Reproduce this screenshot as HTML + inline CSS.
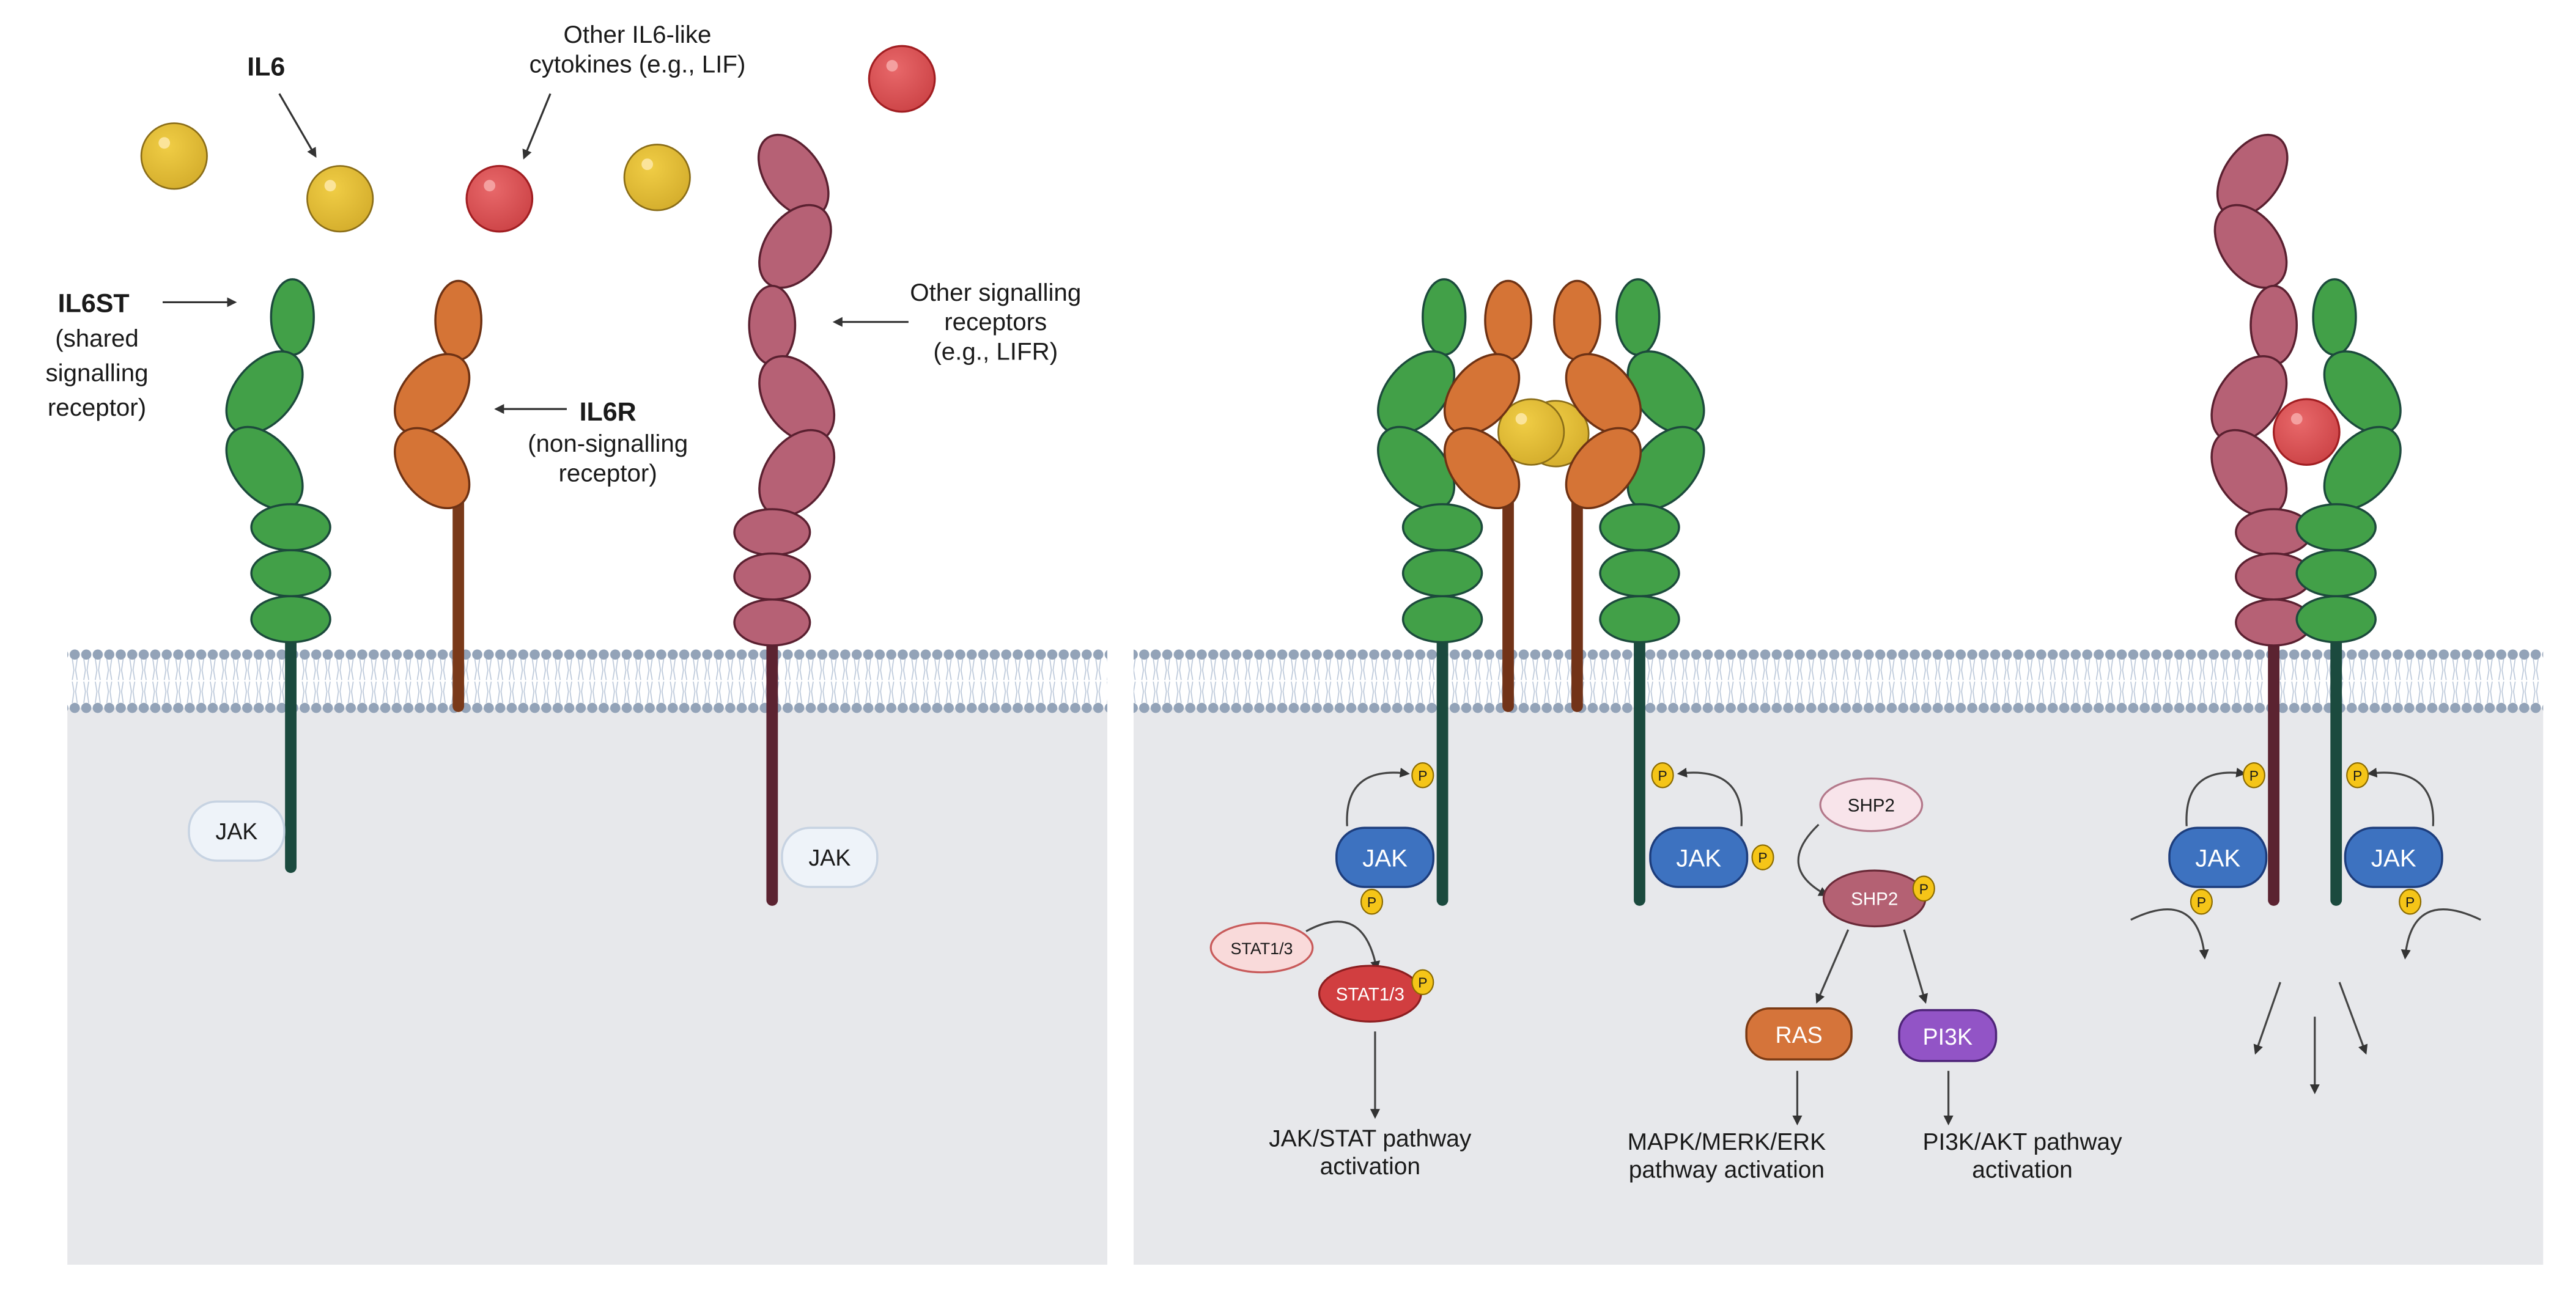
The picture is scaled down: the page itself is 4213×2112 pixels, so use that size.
<!DOCTYPE html>
<html><head><meta charset="utf-8"><style>
html,body{margin:0;padding:0;background:#fff;}
svg{display:block;}
text{font-family:"Liberation Sans",Arial,sans-serif;fill:#1a1a1a;}
</style></head><body>
<svg width="4213" height="2112" viewBox="0 0 1568 786" xmlns="http://www.w3.org/2000/svg">
<defs>
<marker id="ah" viewBox="0 0 10 10" refX="8" refY="5" markerWidth="5" markerHeight="5" orient="auto"><path d="M0,0 L10,5 L0,10 z" fill="#333"/></marker>
<pattern id="mem" x="0" y="0" width="7" height="786" patternUnits="userSpaceOnUse">
<path d="M2,401 L3,408 L2,414 M5,401 L4,408 L5,414 M2,415 L3,421 L2,428 M5,415 L4,421 L5,428" stroke="#b9c6d8" stroke-width="0.6" fill="none"/>
<circle cx="3.5" cy="398.5" r="3.1" fill="#93a3b8"/>
<circle cx="3.5" cy="431" r="3.1" fill="#93a3b8"/>
</pattern>
<radialGradient id="yb" cx="0.4" cy="0.35" r="0.7"><stop offset="0" stop-color="#f0cd45"/><stop offset="1" stop-color="#d4ad2c"/></radialGradient>
<radialGradient id="rb" cx="0.4" cy="0.35" r="0.7"><stop offset="0" stop-color="#e8686a"/><stop offset="1" stop-color="#cc4346"/></radialGradient>
<g id="G" fill="#42a048" stroke="#1c4a3c" stroke-width="1.3">
<ellipse cx="1" cy="193" rx="13" ry="23"/>
<ellipse cx="-16" cy="239" rx="18" ry="29" transform="rotate(40 -16 239)"/>
<ellipse cx="-16" cy="285" rx="18" ry="29" transform="rotate(-40 -16 285)"/>
<ellipse cx="0" cy="321" rx="24" ry="14"/>
<ellipse cx="0" cy="349" rx="24" ry="14"/>
<ellipse cx="0" cy="377" rx="24" ry="14"/>
</g>
<g id="O" fill="#d57436" stroke="#6e3214" stroke-width="1.3">
<ellipse cx="0" cy="195" rx="14" ry="24"/>
<ellipse cx="-16" cy="240" rx="18" ry="28" transform="rotate(40 -16 240)"/>
<ellipse cx="-16" cy="285" rx="18" ry="28" transform="rotate(-40 -16 285)"/>
</g>
<g id="Pk" fill="#b66175" stroke="#5a2030" stroke-width="1.3">
<ellipse cx="13" cy="107" rx="17" ry="28" transform="rotate(-35 13 107)"/>
<ellipse cx="14" cy="150" rx="18" ry="28" transform="rotate(35 14 150)"/>
<ellipse cx="0" cy="198" rx="14" ry="24"/>
<ellipse cx="15" cy="243" rx="19" ry="29" transform="rotate(-35 15 243)"/>
<ellipse cx="15" cy="288" rx="19" ry="29" transform="rotate(35 15 288)"/>
<ellipse cx="0" cy="324" rx="23" ry="14"/>
<ellipse cx="0" cy="351" rx="23" ry="14"/>
<ellipse cx="0" cy="379" rx="23" ry="14"/>
</g>
<g id="YB"><circle r="20" fill="url(#yb)" stroke="#8a6d18" stroke-width="1"/><circle cx="-6" cy="-8" r="3.5" fill="#fbe49a"/></g>
<g id="RB"><circle r="20" fill="url(#rb)" stroke="#a11e22" stroke-width="1.2"/><circle cx="-6" cy="-8" r="3.5" fill="#f4a0a0"/></g>
<g id="P"><ellipse rx="6.5" ry="7.5" fill="#f5c518" stroke="#8a6a00" stroke-width="0.8"/><text x="0" y="3.2" font-size="8.5" text-anchor="middle">P</text></g>
<g id="JAK"><rect x="-29.5" y="-18" width="59" height="36" rx="17" fill="#3d72c0" stroke="#1d3d7c" stroke-width="1.3"/><text x="0" y="5.5" font-size="15" text-anchor="middle" style="fill:#fff">JAK</text></g>
</defs>

<!-- backgrounds -->
<rect x="41" y="431" width="633" height="339" fill="#e7e8eb"/>
<rect x="690" y="431" width="858" height="339" fill="#e7e8eb"/>
<rect x="41" y="394" width="633" height="41" fill="url(#mem)"/>
<rect x="690" y="394" width="858" height="41" fill="url(#mem)"/>

<!-- LEFT PANEL -->
<use href="#YB" x="106" y="95"/>
<use href="#YB" x="207" y="121"/>
<use href="#YB" x="400" y="108"/>
<use href="#RB" x="304" y="121"/>
<use href="#RB" x="549" y="48"/>

<text x="162" y="46" font-size="16" font-weight="bold" text-anchor="middle">IL6</text>
<line x1="170" y1="57" x2="192" y2="95" stroke="#333" stroke-width="1.2" marker-end="url(#ah)"/>
<text x="388" y="26" font-size="15" text-anchor="middle">Other IL6-like</text>
<text x="388" y="44" font-size="15" text-anchor="middle">cytokines (e.g., LIF)</text>
<line x1="335" y1="57" x2="319" y2="96" stroke="#333" stroke-width="1.2" marker-end="url(#ah)"/>

<line x1="177" y1="385" x2="177" y2="528" stroke="#1b4a3e" stroke-width="7" stroke-linecap="round"/>
<use href="#G" x="177" y="0"/>
<line x1="279" y1="300" x2="279" y2="430" stroke="#7a3a1a" stroke-width="7" stroke-linecap="round"/>
<use href="#O" x="279" y="0"/>
<line x1="470" y1="385" x2="470" y2="548" stroke="#5b2331" stroke-width="7" stroke-linecap="round"/>
<use href="#Pk" x="470" y="0"/>

<text x="57" y="190" font-size="16" font-weight="bold" text-anchor="middle">IL6ST</text>
<line x1="99" y1="184" x2="143" y2="184" stroke="#333" stroke-width="1.2" marker-end="url(#ah)"/>
<text x="59" y="211" font-size="15" text-anchor="middle">(shared</text>
<text x="59" y="232" font-size="15" text-anchor="middle">signalling</text>
<text x="59" y="253" font-size="15" text-anchor="middle">receptor)</text>

<text x="370" y="256" font-size="16" font-weight="bold" text-anchor="middle">IL6R</text>
<line x1="345" y1="249" x2="302" y2="249" stroke="#333" stroke-width="1.2" marker-end="url(#ah)"/>
<text x="370" y="275" font-size="15" text-anchor="middle">(non-signalling</text>
<text x="370" y="293" font-size="15" text-anchor="middle">receptor)</text>

<text x="606" y="183" font-size="15" text-anchor="middle">Other signalling</text>
<text x="606" y="201" font-size="15" text-anchor="middle">receptors</text>
<text x="606" y="219" font-size="15" text-anchor="middle">(e.g., LIFR)</text>
<line x1="553" y1="196" x2="508" y2="196" stroke="#333" stroke-width="1.2" marker-end="url(#ah)"/>

<g><rect x="115" y="488" width="58" height="36" rx="17" fill="#eef3f9" stroke="#c7d3e2" stroke-width="1.3"/><text x="144" y="511" font-size="14" text-anchor="middle">JAK</text></g>
<g><rect x="476" y="504" width="58" height="36" rx="17" fill="#eef3f9" stroke="#c7d3e2" stroke-width="1.3"/><text x="505" y="527" font-size="14" text-anchor="middle">JAK</text></g>

<!-- RIGHT PANEL: complex 1 -->
<line x1="878" y1="385" x2="878" y2="548" stroke="#1b4a3e" stroke-width="7" stroke-linecap="round"/>
<line x1="998" y1="385" x2="998" y2="548" stroke="#1b4a3e" stroke-width="7" stroke-linecap="round"/>
<line x1="918" y1="300" x2="918" y2="430" stroke="#723318" stroke-width="7" stroke-linecap="round"/>
<line x1="960" y1="300" x2="960" y2="430" stroke="#723318" stroke-width="7" stroke-linecap="round"/>
<use href="#G" x="878" y="0"/>
<use href="#G" transform="translate(998 0) scale(-1 1)"/>
<use href="#YB" x="947" y="264"/>
<use href="#YB" x="932" y="263"/>
<use href="#O" x="918" y="0"/>
<use href="#O" transform="translate(960 0) scale(-1 1)"/>

<path d="M820,503 Q818,466 857,471" fill="none" stroke="#444" stroke-width="1.2" marker-end="url(#ah)"/>
<path d="M1060,503 Q1062,466 1022,471" fill="none" stroke="#444" stroke-width="1.2" marker-end="url(#ah)"/>
<use href="#JAK" x="843" y="522"/>
<use href="#JAK" x="1034" y="522"/>
<use href="#P" x="866" y="472"/>
<use href="#P" x="1012" y="472"/>
<use href="#P" x="835" y="549"/>
<use href="#P" x="1073" y="522"/>

<ellipse cx="768" cy="577" rx="31" ry="15" fill="#f9dada" stroke="#c85a5a" stroke-width="1.2"/>
<text x="768" y="581" font-size="10" text-anchor="middle">STAT1/3</text>
<path d="M795,567 Q830,548 838,590" fill="none" stroke="#444" stroke-width="1.2" marker-end="url(#ah)"/>
<ellipse cx="834" cy="605" rx="31" ry="17" fill="#d13e40" stroke="#8c1e20" stroke-width="1.2"/>
<text x="834" y="609" font-size="11" text-anchor="middle" style="fill:#fff">STAT1/3</text>
<use href="#P" x="866" y="598"/>
<line x1="837" y1="628" x2="837" y2="680" stroke="#444" stroke-width="1.2" marker-end="url(#ah)"/>
<text x="834" y="698" font-size="14.5" text-anchor="middle">JAK/STAT pathway</text>
<text x="834" y="715" font-size="14.5" text-anchor="middle">activation</text>

<ellipse cx="1139" cy="490" rx="31" ry="16" fill="#f8e4ea" stroke="#b3788a" stroke-width="1.2"/>
<text x="1139" y="494" font-size="11" text-anchor="middle">SHP2</text>
<path d="M1107,502 Q1080,528 1112,545" fill="none" stroke="#444" stroke-width="1.2" marker-end="url(#ah)"/>
<ellipse cx="1141" cy="547" rx="31" ry="17" fill="#b46173" stroke="#6a2a38" stroke-width="1.2"/>
<text x="1141" y="551" font-size="11" text-anchor="middle" style="fill:#fff">SHP2</text>
<use href="#P" x="1171" y="541"/>
<line x1="1125" y1="566" x2="1106" y2="610" stroke="#444" stroke-width="1.2" marker-end="url(#ah)"/>
<line x1="1159" y1="566" x2="1172" y2="610" stroke="#444" stroke-width="1.2" marker-end="url(#ah)"/>
<rect x="1063" y="614" width="64" height="31" rx="14" fill="#d5743a" stroke="#7a3a14" stroke-width="1.3"/>
<text x="1095" y="635" font-size="14" text-anchor="middle" style="fill:#fff">RAS</text>
<rect x="1156" y="615" width="59" height="31" rx="14" fill="#9254c6" stroke="#4e2478" stroke-width="1.3"/>
<text x="1185.5" y="636" font-size="14" text-anchor="middle" style="fill:#fff">PI3K</text>
<line x1="1094" y1="652" x2="1094" y2="684" stroke="#444" stroke-width="1.2" marker-end="url(#ah)"/>
<line x1="1186" y1="652" x2="1186" y2="684" stroke="#444" stroke-width="1.2" marker-end="url(#ah)"/>
<text x="1051" y="700" font-size="14.5" text-anchor="middle">MAPK/MERK/ERK</text>
<text x="1051" y="717" font-size="14.5" text-anchor="middle">pathway activation</text>
<text x="1231" y="700" font-size="14.5" text-anchor="middle">PI3K/AKT pathway</text>
<text x="1231" y="717" font-size="14.5" text-anchor="middle">activation</text>

<!-- complex 2 -->
<line x1="1384" y1="385" x2="1384" y2="548" stroke="#5b2331" stroke-width="7" stroke-linecap="round"/>
<line x1="1422" y1="385" x2="1422" y2="548" stroke="#1b4a3e" stroke-width="7" stroke-linecap="round"/>
<use href="#Pk" transform="translate(1384 0) scale(-1 1)"/>
<use href="#G" transform="translate(1422 0) scale(-1 1)"/>
<use href="#RB" x="1404" y="263"/>

<path d="M1331,503 Q1329,466 1366,471" fill="none" stroke="#444" stroke-width="1.2" marker-end="url(#ah)"/>
<path d="M1481,503 Q1483,466 1442,471" fill="none" stroke="#444" stroke-width="1.2" marker-end="url(#ah)"/>
<use href="#JAK" x="1350" y="522"/>
<use href="#JAK" x="1457" y="522"/>
<use href="#P" x="1372" y="472"/>
<use href="#P" x="1435" y="472"/>
<use href="#P" x="1340" y="549"/>
<use href="#P" x="1467" y="549"/>
<path d="M1297,560 Q1338,540 1342,583" fill="none" stroke="#444" stroke-width="1.2" marker-end="url(#ah)"/>
<path d="M1510,560 Q1468,540 1464,583" fill="none" stroke="#444" stroke-width="1.2" marker-end="url(#ah)"/>
<line x1="1388" y1="598" x2="1373" y2="641" stroke="#444" stroke-width="1.2" marker-end="url(#ah)"/>
<line x1="1409" y1="619" x2="1409" y2="665" stroke="#444" stroke-width="1.2" marker-end="url(#ah)"/>
<line x1="1424" y1="598" x2="1440" y2="641" stroke="#444" stroke-width="1.2" marker-end="url(#ah)"/>
</svg>
</body></html>
